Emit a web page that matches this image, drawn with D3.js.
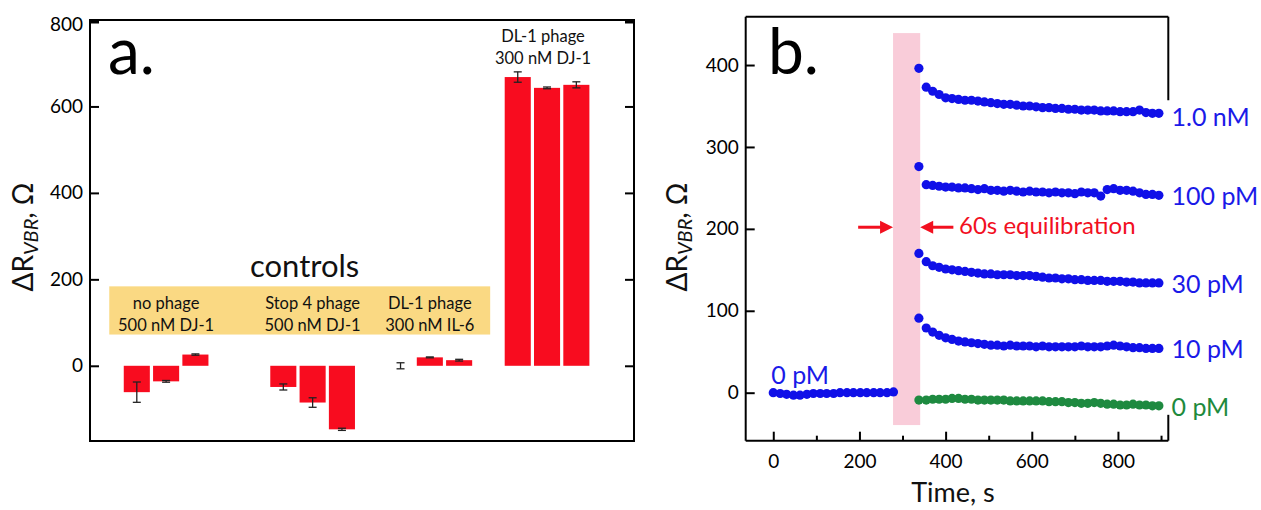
<!DOCTYPE html>
<html><head><meta charset="utf-8">
<script src="https://cdn.jsdelivr.net/npm/d3@7"></script>
<style>body{margin:0;background:#fff}svg{display:block;font-family:Lato,"Open Sans",sans-serif}</style>
</head><body><svg id="c" width="1261" height="510"></svg>
<script>
// ---------- Panel a data ----------
const groupNames = ["no phage|500 nM DJ-1", "Stop 4 phage|500 nM DJ-1", "DL-1 phage|300 nM IL-6", "DL-1 phage|300 nM DJ-1"];
const barGroup = [0,0,0, 1,1,1, 2,2,2, 3,3,3];
const barValues = [-61, -36, 26, -49, -85, -147, 0, 19.5, 13, 668, 643, 650];
const barErrors = [23.5, 2, 1.5, 7, 11, 2.5, 7, 1, 2, 12, 2, 7];
const aTicks = [0, 200, 400, 600, 800];

// ---------- Panel b data ----------
const tBase = [0,16,31,47,62,78,93,109,124,140,155,171,186,202,217,233,248,264,279];
const vBase = [0,-1,-2,-3,-3,-2,-1,-1,-1,-1,0,0,0,0,0,0,0,0,1];
const tAfter = [338,355,370,385,400,415,430,445,460,475,490,505,520,535,550,565,580,595,610,625,640,655,670,685,700,715,730,745,760,775,790,805,820,835,850,865,880,895];
const v1nM = [396,373,368,364,360,359,358,357,357,356,355,354,353,352,352,351,350,350,349,348,348,347,347,346,346,345,345,345,344,344,344,343,343,343,345,342,341,341];
const v100pM = [276,254,253,252,251,251,250,250,249,248,249,247,247,246,247,246,245,246,245,245,244,245,244,244,243,245,244,244,240,248,249,247,247,246,244,242,242,241];
const v30pM = [170,160,155,153,151,150,149,148,147,146,145,145,144,144,144,143,143,143,142,141,140,140,139,139,138,138,137,137,137,136,136,136,135,135,134,134,134,134];
const v10pM = [91,79,74,70,67,65,63,62,61,60,59,58,58,57,58,57,57,57,56,57,56,56,56,56,56,57,56,56,56,57,58,57,56,55,55,54,54,54];
const v0pM = [-9,-9,-8,-8,-8,-7,-7,-8,-8,-9,-9,-9,-9,-9,-10,-10,-10,-10,-10,-10,-11,-11,-11,-12,-12,-13,-13,-12,-13,-14,-14,-15,-15,-14,-15,-15,-16,-16];
const seriesNames = ["1.0 nM", "100 pM", "30 pM", "10 pM", "0 pM"];
const seriesValues = [v1nM, v100pM, v30pM, v10pM, v0pM];
const seriesColors = ["#1010e8", "#1010e8", "#1010e8", "#1010e8", "#1e8a40"];
const equilWindow = [278, 341];
const bXTicks = [0, 200, 400, 600, 800];
const bXMinor = [100, 300, 500, 700, 900];
const bYTicks = [0, 100, 200, 300, 400];

const svg = d3.select("#c");

// ================= Panel a =================
const ya = d3.scaleLinear().domain([-174, 800]).range([441, 20]);
const slots = [];
barValues.forEach((v, i) => {
  slots.push("b" + i);
  if (i === 2) { slots.push("s0"); slots.push("s1"); }
  if (i === 5) slots.push("s2");
  if (i === 8) slots.push("s3");
});
const xa = d3.scaleBand().domain(slots).range([122.15, 591]).paddingInner(0.11).paddingOuter(0.055);
const ga = svg.append("g");

// yellow controls box
const ctrlX0 = xa("b0") - 14.5, ctrlX1 = xa("b8") + xa.bandwidth() + 18;
ga.append("rect").attr("x", ctrlX0).attr("y", ya(200) + 7).attr("width", ctrlX1 - ctrlX0)
  .attr("height", ya(70) - ya(200) - 8).attr("fill", "#fad983");
ga.append("text").attr("x", 304.6).attr("y", 277).attr("text-anchor", "middle")
  .attr("font-size", 31).attr("fill", "#111").text("controls");

// bars
ga.selectAll("rect.bar").data(barValues).join("rect").attr("class", "bar")
  .attr("x", (d, i) => xa("b" + i)).attr("width", xa.bandwidth())
  .attr("y", d => ya(Math.max(0, d))).attr("height", d => Math.abs(ya(d) - ya(0)))
  .attr("fill", "#f80c1f");
// error bars
const eb = ga.selectAll("g.err").data(barValues).join("g").attr("class", "err")
  .attr("stroke", "#222").attr("stroke-width", 1.3);
eb.append("line").attr("x1", (d, i) => xa("b" + i) + xa.bandwidth() / 2).attr("x2", (d, i) => xa("b" + i) + xa.bandwidth() / 2)
  .attr("y1", (d, i) => ya(d + barErrors[i])).attr("y2", (d, i) => ya(d - barErrors[i]));
[1, -1].forEach(s => {
  eb.append("line").attr("x1", (d, i) => xa("b" + i) + xa.bandwidth() / 2 - 4).attr("x2", (d, i) => xa("b" + i) + xa.bandwidth() / 2 + 4)
    .attr("y1", (d, i) => ya(d + s * barErrors[i])).attr("y2", (d, i) => ya(d + s * barErrors[i]));
});

// group labels
groupNames.forEach((g, gi) => {
  const idx = barGroup.map((b, i) => b === gi ? i : -1).filter(i => i >= 0);
  const cx = (xa("b" + idx[0]) + xa("b" + idx[2]) + xa.bandwidth()) / 2;
  const lines = g.split("|");
  const top = gi === 3 ? 41.7 : 309.3;
  lines.forEach((l, li) => {
    ga.append("text").attr("x", gi === 3 ? cx - 4 : cx).attr("y", top + li * 22)
      .attr("text-anchor", "middle").attr("font-size", 16.5).attr("fill", "#111").text(l);
  });
});

// frame & axes
ga.append("rect").attr("x", 90).attr("y", 20).attr("width", 544).attr("height", 421)
  .attr("fill", "none").attr("stroke", "#000").attr("stroke-width", 2);
const axL = d3.axisLeft(ya).tickValues(aTicks).tickSizeInner(-9).tickSizeOuter(0).tickPadding(7);
const gal = ga.append("g").attr("transform", "translate(90,0)").call(axL);
const axR = d3.axisRight(ya).tickValues(aTicks).tickSizeInner(-9).tickSizeOuter(0).tickFormat("");
const gar = ga.append("g").attr("transform", "translate(634,0)").call(axR);
[gal, gar].forEach(g => {
  g.select(".domain").remove();
  g.selectAll(".tick line").attr("stroke", "#000").attr("stroke-width", 2);
  g.selectAll("text").attr("font-size", 19).attr("fill", "#000").attr("font-family", "Lato");
});
gal.selectAll(".tick").filter(d => d === 800).select("line").attr("stroke-width", 4).attr("transform", "translate(0,1)");
gar.selectAll(".tick").filter(d => d === 800).select("line").attr("stroke-width", 4).attr("transform", "translate(0,1)");
gal.selectAll(".tick").filter(d => d === 800).select("text").attr("dy", "0.55em");

ga.append("text").attr("x", 108).attr("y", 74).attr("font-size", 64).attr("fill", "#000").text("a.");

function yLabel(g, x, y) {
  const t = g.append("text").attr("transform", `translate(${x},${y}) rotate(-90)`)
    .attr("text-anchor", "middle").attr("font-size", 28).attr("fill", "#111");
  t.append("tspan").text("\u0394R");
  t.append("tspan").attr("font-size", 20).attr("font-style", "italic").attr("dy", 5).text("VBR");
  t.append("tspan").attr("dy", -5).text(", \u03A9");
}
yLabel(ga, 33, 237);

// ================= Panel b =================
const xb = d3.scaleLinear().domain([-64, 915]).range([745.7, 1167.5]);
const yb = d3.scaleLinear().domain([-58.6, 459]).range([440.7, 16.7]);
const gb = svg.append("g");

gb.append("rect").attr("x", xb(equilWindow[0])).attr("width", xb(equilWindow[1]) - xb(equilWindow[0]))
  .attr("y", yb(439)).attr("height", yb(-39.5) - yb(439)).attr("fill", "#f9ccd9");

// series dots
const allSeries = [{ t: tBase, v: vBase, c: "#1010e8" }].concat(
  seriesValues.map((v, i) => ({ t: tAfter, v: v, c: seriesColors[i] })));
allSeries.forEach(s => {
  gb.append("g").selectAll("circle").data(s.v).join("circle")
    .attr("cx", (d, i) => xb(s.t[i])).attr("cy", d => yb(d)).attr("r", 4.6).attr("fill", s.c);
});

// frame
gb.append("g").attr("stroke", "#000").attr("stroke-width", 2).attr("fill", "none")
  .selectAll("line").data([
    [745.7, 16.7, 1168.3, 16.7], [745.7, 16.7, 745.7, 440.7], [745.7, 440.7, 1168.3, 440.7],
    [1168.3, 16.7, 1168.3, yb(357)], [1168.3, yb(-27), 1168.3, 440.7]
  ]).join("line").attr("x1", d => d[0]).attr("y1", d => d[1]).attr("x2", d => d[2]).attr("y2", d => d[3]);

const bxAx = gb.append("g").attr("transform", "translate(0,440.7)")
  .call(d3.axisBottom(xb).tickValues(bXTicks).tickSizeInner(-9).tickSizeOuter(0).tickPadding(14));
const bxMin = gb.append("g").attr("transform", "translate(0,440.7)")
  .call(d3.axisBottom(xb).tickValues(bXMinor).tickSizeInner(-5).tickSizeOuter(0).tickFormat(""));
const byAx = gb.append("g").attr("transform", "translate(745.7,0)")
  .call(d3.axisLeft(yb).tickValues(bYTicks).tickSizeInner(-9).tickSizeOuter(0).tickPadding(7));
[bxAx, bxMin, byAx].forEach(g => {
  g.select(".domain").remove();
  g.selectAll(".tick line").attr("stroke", "#000").attr("stroke-width", 2);
  g.selectAll("text").attr("font-size", 19).attr("fill", "#000").attr("font-family", "Lato");
});

gb.append("text").attr("x", 953).attr("y", 502).attr("text-anchor", "middle")
  .attr("font-size", 27).attr("fill", "#111").text("Time, s");
yLabel(gb, 687, 237);
gb.append("text").attr("x", 768).attr("y", 74).attr("font-size", 64).attr("fill", "#000").text("b.");

// series labels
seriesNames.forEach((n, i) => {
  const v = seriesValues[i];
  gb.append("text").attr("x", 1171.5).attr("y", yb(v[v.length - 1]) + (i === 0 ? 13 : 10))
    .attr("font-size", 25).attr("fill", i === 4 ? "#1e8a3c" : "#1a1ae8").text(n);
});
gb.append("text").attr("x", xb(tBase[0]) - 2).attr("y", yb(vBase[0]) - 9)
  .attr("font-size", 25).attr("fill", "#1a1ae8").text("0 pM");

// equilibration arrows
const red = "#f2101f";
const ay = yb(202);
function arrow(xFrom, xTo) {
  const dir = Math.sign(xTo - xFrom);
  gb.append("line").attr("x1", xb(xFrom)).attr("x2", xb(xTo) - dir * 10).attr("y1", ay).attr("y2", ay)
    .attr("stroke", red).attr("stroke-width", 3);
  const tip = xb(xTo);
  gb.append("path").attr("d", `M${tip},${ay} L${tip - dir * 13},${ay - 6.5} L${tip - dir * 13},${ay + 6.5} Z`).attr("fill", red);
}
arrow(197, equilWindow[0]);
arrow(418, equilWindow[1]);
gb.append("text").attr("x", 959).attr("y", 234).attr("font-size", 24).attr("fill", red).text("60s equilibration");
</script></body></html>
